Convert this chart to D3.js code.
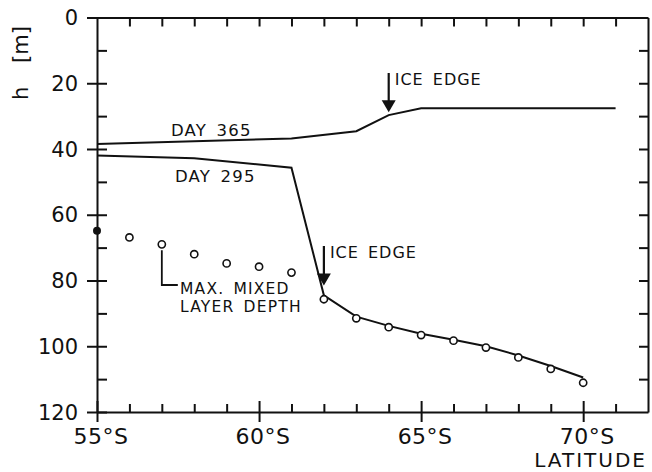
<!DOCTYPE html>
<html>
<head>
<meta charset="utf-8">
<script src="https://cdn.jsdelivr.net/npm/d3@7"></script>
<style>
  body { margin: 0; background: #fff; }
  svg { display: block; }
  text { font-family: "DejaVu Sans", sans-serif; fill: #111; }
</style>
</head>
<body>
<div id="chart"></div>
<script>
// latitudes (deg S) and depths h [m]
const day365Lat = [55, 61, 63, 64, 65, 71];
const day365H   = [38.5, 36.8, 34.6, 29.7, 27.6, 27.6];

const day295Lat = [55, 58, 61, 62, 63, 64, 65, 66, 67, 68, 69, 70];
const day295H   = [42.0, 42.8, 45.7, 84.5, 91, 93.8, 96.2, 98, 100, 102.8, 106, 109.5];

const mixedLat = [56, 57, 58, 59, 60, 61, 62, 63, 64, 65, 66, 67, 68, 69, 70];
const mixedH   = [66.9, 69.0, 72.0, 74.8, 75.8, 77.6, 85.7, 91.5, 94.2, 96.6, 98.3, 100.4, 103.4, 106.9, 111.1];

const obsLat = [55];
const obsH   = [64.9];

const xTickLabels = ["55°S", "60°S", "65°S", "70°S"];
const yTickValues = [0, 20, 40, 60, 80, 100, 120];

const width = 652, height = 472;

const svg = d3.select("#chart")
  .append("svg")
  .attr("width", width)
  .attr("height", height);

const x = d3.scaleLinear().domain([55, 72]).range([97, 648]);
const y = d3.scaleLinear().domain([0, 120]).range([17.5, 412]);

const minorLat = d3.range(55, 72, 1);
const minorH = d3.range(0, 121, 10);

// Frame axes
const axisStyle = g => {
  g.select(".domain").attr("stroke", "#111").attr("stroke-width", 2);
  g.selectAll(".tick line").attr("stroke", "#111").attr("stroke-width", 2);
};

// bottom axis: inward minor ticks, crossing majors
const bottom = svg.append("g")
  .attr("transform", `translate(0,${y(120)})`)
  .call(d3.axisBottom(x).tickValues(minorLat).tickSize(-8).tickSizeOuter(0).tickFormat(""))
  .call(axisStyle);
bottom.selectAll(".tick line")
  .filter(d => d % 5 === 0)
  .attr("y1", -11).attr("y2", 10);

bottom.selectAll(".xlab")
  .data([55, 60, 65, 70])
  .join("text")
  .attr("class", "xlab")
  .attr("x", d => x(d) + 4)
  .attr("y", 32)
  .attr("text-anchor", "middle")
  .style("font-size", "22px")
  .style("letter-spacing", "0.5px")
  .text((d, i) => xTickLabels[i]);

// top axis
svg.append("g")
  .attr("transform", `translate(0,${y(0)})`)
  .call(d3.axisTop(x).tickValues(minorLat.filter(d => d > 55)).tickSize(-9).tickSizeOuter(0).tickFormat(""))
  .call(axisStyle);

// left axis
const left = svg.append("g")
  .attr("transform", `translate(${x(55)},0)`)
  .call(d3.axisLeft(y).tickValues(minorH).tickSize(-10).tickSizeOuter(0).tickFormat(""))
  .call(axisStyle);
left.selectAll(".tick line")
  .filter(d => d % 20 === 0)
  .attr("x1", -10).attr("x2", 10);

left.selectAll(".ylab")
  .data(yTickValues)
  .join("text")
  .attr("class", "ylab")
  .attr("x", -19)
  .attr("y", d => y(d))
  .attr("dy", "0.36em")
  .attr("text-anchor", "end")
  .style("font-size", "21px")
  .text(d => d);

// right axis
svg.append("g")
  .attr("transform", `translate(${x(72)},0)`)
  .call(d3.axisRight(y).tickValues(minorH.filter(d => d > 0 && d < 120)).tickSize(-9).tickSizeOuter(0).tickFormat(""))
  .call(axisStyle);

// axis titles
svg.append("text")
  .attr("transform", `translate(28,100) rotate(-90)`)
  .style("font-size", "21px")
  .text("h");
svg.append("text")
  .attr("transform", `translate(28,63) rotate(-90)`)
  .style("font-size", "21px")
  .text("[m]");

svg.append("text")
  .attr("x", 647)
  .attr("y", 467)
  .attr("text-anchor", "end")
  .style("font-size", "20px")
  .style("letter-spacing", "2px")
  .text("LATITUDE");

// lines
const line = d3.line().x(d => x(d[0])).y(d => y(d[1]));

svg.append("path")
  .datum(d3.zip(day365Lat, day365H))
  .attr("fill", "none")
  .attr("stroke", "#111")
  .attr("stroke-width", 2)
  .attr("d", line);

svg.append("path")
  .datum(d3.zip(day295Lat, day295H))
  .attr("fill", "none")
  .attr("stroke", "#111")
  .attr("stroke-width", 2)
  .attr("d", line);

// max mixed layer depth circles
svg.append("g")
  .selectAll("circle")
  .data(d3.zip(mixedLat, mixedH))
  .join("circle")
  .attr("cx", d => x(d[0]))
  .attr("cy", d => y(d[1]))
  .attr("r", 3.6)
  .attr("fill", "#fff")
  .attr("stroke", "#111")
  .attr("stroke-width", 1.6);

svg.append("g")
  .selectAll("circle")
  .data(d3.zip(obsLat, obsH))
  .join("circle")
  .attr("cx", d => x(d[0]))
  .attr("cy", d => y(d[1]))
  .attr("r", 4)
  .attr("fill", "#111");

// labels
const label = (tx, ty, s, fs) => svg.append("text")
  .attr("x", tx).attr("y", ty)
  .style("font-size", (fs || 16) + "px")
  .style("letter-spacing", "1.2px")
  .style("word-spacing", "3px")
  .text(s);

label(171, 136, "DAY 365", 16.5);
label(175, 182, "DAY 295", 16.5);

// ice edge arrows
const arrow = (lat, h, top) => {
  const ax = x(lat), ay = y(h);
  svg.append("line")
    .attr("x1", ax).attr("x2", ax)
    .attr("y1", top).attr("y2", ay - 8)
    .attr("stroke", "#111").attr("stroke-width", 2.2);
  svg.append("path")
    .attr("d", `M${ax - 7},${ay - 12}L${ax + 7},${ay - 12}L${ax},${ay}Z`)
    .attr("fill", "#111");
  svg.append("text")
    .attr("x", ax + 6).attr("y", top + 12)
    .style("font-size", "16px")
    .style("letter-spacing", "1px")
    .style("word-spacing", "3px")
    .text("ICE EDGE");
};
arrow(64, 28.8, 73);
arrow(62, 81.5, 246);

// max mixed layer leader
const lx = x(57);
svg.append("path")
  .attr("d", `M${lx},${y(mixedH[1]) + 6}V285H${lx + 16}`)
  .attr("fill", "none")
  .attr("stroke", "#111")
  .attr("stroke-width", 1.8);
label(180, 294, "MAX. MIXED", 15.5);
label(180, 312, "LAYER DEPTH", 15.5);
</script>
</body>
</html>
